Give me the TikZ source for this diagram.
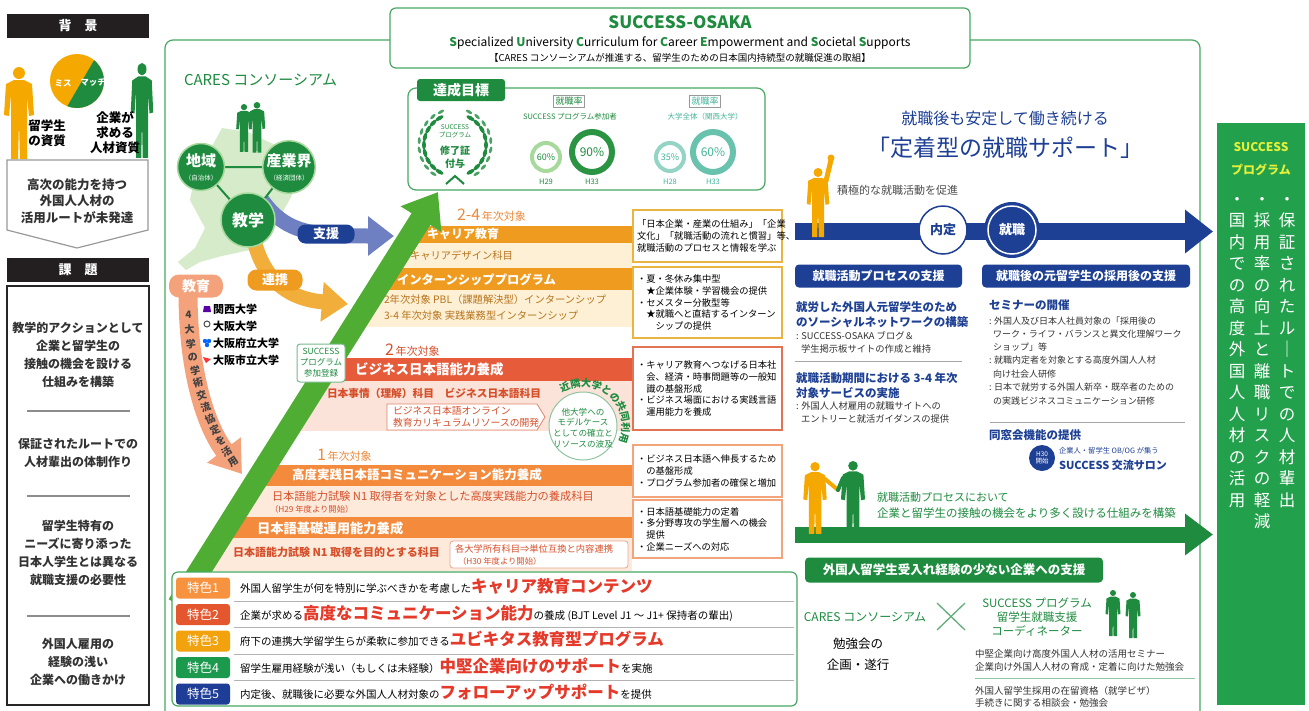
\documentclass[tikz,border=0pt]{standalone}
\usepackage{fontspec}
\setmainfont{Noto Sans CJK JP}
\usetikzlibrary{arrows.meta,decorations.text,shapes.geometric}
\definecolor{hdrblack}{HTML}{231F20}
\definecolor{frameG}{HTML}{48A863}
\definecolor{gD}{HTML}{1E8B3F}
\definecolor{gArrow}{HTML}{4EAD32}
\definecolor{mapG}{HTML}{D6EBC9}
\definecolor{orP}{HTML}{F5A800}
\definecolor{orA}{HTML}{EF9B20}
\definecolor{creamA}{HTML}{FDF0D5}
\definecolor{redB}{HTML}{E65C3B}
\definecolor{pinkB}{HTML}{FBE3D9}
\definecolor{orC}{HTML}{F38A3C}
\definecolor{creamC}{HTML}{FDEADB}
\definecolor{txtR}{HTML}{D64F2A}
\definecolor{txtO}{HTML}{EC8A3C}
\definecolor{txtB}{HTML}{B8741C}
\definecolor{blueD}{HTML}{1D3F94}
\definecolor{blueL}{HTML}{6F80C2}
\definecolor{salmonB}{HTML}{F4A27B}
\definecolor{orL}{HTML}{F2AE3A}
\definecolor{ringL}{HTML}{A7D89C}
\definecolor{ringD}{HTML}{2A9442}
\definecolor{tealL}{HTML}{93D4C4}
\definecolor{tealD}{HTML}{44B39A}
\definecolor{panelG}{HTML}{23A04C}
\definecolor{bigR}{HTML}{E5392A}
\definecolor{boxY}{HTML}{E9B440}
\definecolor{boxR}{HTML}{E27355}
\definecolor{boxS}{HTML}{F2A57A}
\definecolor{tkA}{HTML}{F7923E}
\definecolor{tkB}{HTML}{E4572E}
\definecolor{tkC}{HTML}{F2A20C}
\definecolor{tkD}{HTML}{1B9A4D}
\definecolor{tkE}{HTML}{1E3D96}
\definecolor{yel}{HTML}{E4F03A}
\newcommand\fsz[2]{\fontsize{#1}{#2}\selectfont}
\newcommand\grL[1]{\textcolor{gD}{\bfseries #1}}
\newcommand\redbig[1]{{\fsz{16.5}{16.5}\bfseries\color{bigR}#1}}
\tikzset{
  person/.pic={
    \fill (0,6) circle[radius=6];
    \fill (-5,13) -- (5,13) -- (13,17) -- (15,48) -- (10,49) -- (8,28) -- (8,92) -- (1,92)
      -- (0,55) -- (-1,92) -- (-8,92) -- (-8,28) -- (-10,49) -- (-15,48) -- (-13,17) -- cycle;
  },
  hdr/.style={fill=hdrblack, text=white, minimum width=142pt, minimum height=24pt, font=\fsz{13}{13}\bfseries},
  issue/.style={font=\fsz{12}{18}\bfseries, align=center, text=black!80},
  bigcirc/.style={circle, fill=gD, draw=ringL, line width=1.5pt, align=center, text=white},
  barT/.style={anchor=west, text=white, font=\fsz{13}{13}\bfseries},
  subT/.style={anchor=west, font=\fsz{10.3}{10.3}, text=txtB},
  redT/.style={anchor=west, font=\fsz{11}{11}\bfseries, text=txtR},
  note/.style={fill=white, line width=1.3pt, inner sep=4pt, text width=141pt, align=left, font=\fsz{9.3}{11.7}},
  tk/.style={rounded corners=3pt, minimum width=54pt, minimum height=21pt, text=white, font=\fsz{12.5}{12.5}},
  tkT/.style={anchor=base west, font=\fsz{10.5}{10.5}},
  bhead/.style={fill=blueD, rounded corners=4pt, text=white, minimum height=23pt, font=\fsz{12}{12}\bfseries},
  bT/.style={anchor=west, font=\fsz{11.5}{11.5}\bfseries, text=blueD},
  sT/.style={anchor=west, font=\fsz{9.3}{9.3}, text=black!80},
  vcol/.style={anchor=north, align=center, text=white, font=\fsz{16.5}{21.5}},
}
\begin{document}
\begin{tikzpicture}[x=1pt,y=-1pt, every node/.style={inner sep=0pt, outer sep=0pt}]
\useasboundingbox[fill=white] (0,0) rectangle (1309,710);

%================ left column: background ================
\node[hdr] (bgHead) at (78,26) {背　景};
\begin{scope}
  \clip (77,81) circle[radius=27];
  \fill[orP] (45,50) rectangle (110,112);
  \fill[gD] (100,50) -- (110,50) -- (110,112) -- (64,112) -- cycle;
\end{scope}
\node[text=white, font=\fsz{8.5}{8.5}\bfseries] (mis) at (63,83) {ミス};
\node[text=white, font=\fsz{8.5}{8.5}\bfseries] (match) at (93,82) {マッチ};
\pic[color=orP] at (19,67) {person};
\pic[color=gD, xscale=0.75, yscale=1.03] at (142,63) {person};
\node[font=\fsz{12.5}{15.5}\bfseries, align=center] (stuQ) at (47,133) {留学生\\の資質};
\node[font=\fsz{12.5}{15}\bfseries, align=center] (corpQ) at (115,133) {企業が\\求める\\人材資質};
\draw[black!40, fill=white, line width=1.2pt] (7,160) -- (148,160) -- (148,230) -- (77,248) -- (7,230) -- cycle;
\node[font=\fsz{12.5}{16.5}\bfseries, align=center, text=black!80] (bgText) at (77,201) {高次の能力を持つ\\外国人人材の\\活用ルートが未発達};

%================ left column: issues ================
\node[hdr] (isHead) at (78,270) {課　題};
\draw[black!85, line width=1.3pt] (7,286) rectangle (149,705);
\node[issue] (is1) at (78,355) {教学的アクションとして\\企業と留学生の\\接触の機会を設ける\\仕組みを構築};
\node[issue] (is2) at (78,452.5) {保証されたルートでの\\人材輩出の体制作り};
\node[issue] (is3) at (78,552.5) {留学生特有の\\ニーズに寄り添った\\日本人学生とは異なる\\就職支援の必要性};
\node[issue] (is4) at (78,662) {外国人雇用の\\経験の浅い\\企業への働きかけ};
\foreach \y in {411,496,616} \draw[black!45, line width=1.2pt] (27,\y) -- (130,\y);

%================ main frame and title ================
\draw[frameG, line width=1.2pt, rounded corners=8pt] (165,712) -- (165,40) -- (1200,40) -- (1200,712);
\draw[frameG, fill=white, line width=1.2pt, rounded corners=6pt] (390,8) rectangle (970,68);
\node[font=\fsz{17}{17}\bfseries, text=gD] (ttl) at (680,22) {SUCCESS-OSAKA};
\node[font=\fsz{12}{12}] (sub) at (680,43) {\grL{S}pecialized \grL{U}niversity \grL{C}urriculum for \grL{C}areer \grL{E}mpowerment and \grL{S}ocietal \grL{S}upports};
\node[font=\fsz{9.5}{9.5}] (brk) at (680,58) {【CARES コンソーシアムが推進する、留学生のための日本国内持続型の就職促進の取組】};

%================ CARES consortium ================
\node[font=\fsz{15}{15}, text=gD, anchor=west] (cares) at (184,80) {CARES コンソーシアム};
\fill[mapG] (222,128) -- (248,132) -- (275,145) -- (300,150) -- (292,195) -- (272,232) -- (250,250)
  -- (222,256) -- (200,262) -- (186,270) -- (178,262) -- (195,248) -- (205,228) -- (190,200) -- (195,175) -- (210,150) -- cycle;
\pic[color=gD, scale=0.52] at (244,104) {person};
\pic[color=gD, scale=0.55] at (257,102) {person};

% support / cooperation / education bands
\draw[blueL, line width=15pt, -{Triangle[width=38pt,length=26pt]}] (262,200) .. controls (285,232) and (310,236) .. (394,236);
\draw[orL, line width=15pt, -{Triangle[width=38pt,length=26pt]}] (255,244) .. controls (268,290) and (300,300) .. (348,304);
\draw[salmonB, line width=19pt, -{Triangle[width=40pt,length=30pt]}] (188,292) .. controls (188,370) and (205,425) .. (242,474);
\path (188,292) .. controls (188,370) and (205,425) .. (242,474)
  foreach \ch/\p/\k in {4/0.10/1,大/0.168/2,学/0.236/3,の/0.304/4,学/0.372/5,術/0.44/6,交/0.508/7,流/0.576/8,協/0.644/9,定/0.712/10,を/0.78/11,活/0.848/12,用/0.916/13}
  { node[pos=\p, sloped, allow upside down, rotate=90, font=\fsz{10}{10}\bfseries, text=black!75] (ed\k) {\ch} };

\coordinate (cA) at (201,167);
\coordinate (cB) at (289,167);
\coordinate (cC) at (248,220);
\draw[gD, line width=2pt] (cA) -- (cB) -- (cC) -- cycle;
\node[bigcirc, minimum size=47pt] (chiiki) at (cA) {{\fsz{15}{15}\bfseries 地域}\\[2pt]{\fsz{6.5}{6.5}（自治体）}};
\node[bigcirc, minimum size=47pt] (sangyo) at (cB) {{\fsz{15}{15}\bfseries 産業界}\\[2pt]{\fsz{6.5}{6.5}（経済団体）}};
\node[bigcirc, minimum size=54pt] (kyogaku) at (cC) {\fsz{16}{16}\bfseries 教学};

\node[fill=blueD, rounded corners=8pt, minimum width=57pt, minimum height=19pt, text=white, font=\fsz{13}{13}\bfseries] (shien) at (326,234) {支援};
\node[fill=orA, rounded corners=9pt, minimum width=55pt, minimum height=21pt, text=white, font=\fsz{13}{13}\bfseries] (renkei) at (275,280) {連携};
\node[fill=salmonB, rounded corners=10pt, minimum width=54pt, minimum height=23pt, text=white, font=\fsz{14}{14}\bfseries] (kyoiku) at (196,286) {教育};

% universities
\fill[violet!70!blue] (204,306) -- (210,306) -- (211,312) -- (203,312) -- cycle;
\draw[black!70, line width=1pt] (207,324) circle[radius=3];
\fill[blue!60!cyan] (205,341) circle[radius=2.2] (209,341) circle[radius=2.2] (207,345) circle[radius=2.2];
\fill[red!80] (203,357) -- (211,359) -- (206,363) -- cycle;
\node[anchor=west, font=\fsz{11}{11}\bfseries] (u1) at (213,309) {関西大学};
\node[anchor=west, font=\fsz{11}{11}\bfseries] (u2) at (213,326) {大阪大学};
\node[anchor=west, font=\fsz{11}{11}\bfseries] (u3) at (213,343) {大阪府立大学};
\node[anchor=west, font=\fsz{11}{11}\bfseries] (u4) at (213,360) {大阪市立大学};

%================ targets ================
\draw[frameG, fill=white, line width=1.2pt, rounded corners=8pt] (408,88) rectangle (765,190);
\node[fill=gD, rounded corners=3pt, text=white, minimum width=88pt, minimum height=22pt, font=\fsz{14}{14}\bfseries] (goal) at (461,90) {達成目標};
\foreach \a in {120,135,...,240} {
  \path (455,145) ++(\a:31) node[ellipse, fill=gD, minimum width=9pt, minimum height=4pt, rotate=90-\a] {};
  \path (455,145) ++(\a+7:36) node[ellipse, fill=gD!80, minimum width=7pt, minimum height=3pt, rotate=90-\a] {};
}
\foreach \a in {-60,-45,...,60} {
  \path (455,145) ++(\a:31) node[ellipse, fill=gD, minimum width=9pt, minimum height=4pt, rotate=90-\a] {};
  \path (455,145) ++(\a-7:36) node[ellipse, fill=gD!80, minimum width=7pt, minimum height=3pt, rotate=90-\a] {};
}
\draw[gD, line width=2pt] (446,184) -- (455,176) -- (464,184);
\node[font=\fsz{6.5}{8}, text=gD, align=center] (wrA) at (455,131) {SUCCESS\\プログラム};
\node[font=\fsz{10}{12.5}\bfseries, text=gD, align=center] (wrB) at (455,157) {修了証\\付与};

\node[draw=black!40, inner sep=2pt, font=\fsz{9}{9}, text=gD] (rate1) at (569,101) {就職率};
\node[draw=black!40, inner sep=2pt, font=\fsz{9}{9}, text=tealD] (rate2) at (705,101) {就職率};
\node[font=\fsz{7.5}{7.5}, text=gD] (rt1) at (570,117) {SUCCESS プログラム参加者};
\node[font=\fsz{7.5}{7.5}, text=tealD] (rt2) at (705,117) {大学全体（関西大学）};
\draw[ringL, line width=4pt] (546,157) circle[radius=14];
\draw[ringD, line width=6pt] (592,152) circle[radius=20];
\draw[tealL, line width=4pt] (670,157) circle[radius=14];
\draw[tealD!80, line width=6pt] (713,152) circle[radius=20];
\node[font=\fsz{9}{9}, text=gD] (p1) at (546,157) {60\%};
\node[font=\fsz{12}{12}, text=gD] (p2) at (592,152) {90\%};
\node[font=\fsz{9}{9}, text=tealD] (p3) at (670,157) {35\%};
\node[font=\fsz{12}{12}, text=tealD] (p4) at (713,152) {60\%};
\node[font=\fsz{7.5}{7.5}, text=gD] (h1) at (546,182) {H29};
\node[font=\fsz{7.5}{7.5}, text=gD] (h2) at (592,182) {H33};
\node[font=\fsz{7.5}{7.5}, text=tealD] (h3) at (670,182) {H28};
\node[font=\fsz{7.5}{7.5}, text=tealD] (h4) at (713,182) {H33};

%================ programme rows ================
\begin{scope}
  \clip (464,150) -- (168,620) -- (640,620) -- (640,150) -- cycle;
  \fill[orA] (150,226) rectangle (632,243);
  \fill[creamA] (150,243) rectangle (632,268);
  \fill[orA] (150,268) rectangle (632,290);
  \fill[creamA] (150,290) rectangle (632,327);
  \fill[redB] (150,358) rectangle (632,381);
  \fill[pinkB] (150,381) rectangle (632,431);
  \fill[orC] (150,465) rectangle (632,486);
  \fill[creamC] (150,486) rectangle (632,517);
  \fill[orC] (150,517) rectangle (632,538);
  \fill[creamC] (150,538) rectangle (632,571);
\end{scope}
\node[anchor=base west, text=txtO] (yr24) at (457,220) {{\fsz{16}{16}2-4}\,{\fsz{11}{11}年次対象}};
\node[barT, font=\fsz{12}{12}\bfseries] (rCar) at (427,234) {キャリア教育};
\node[subT] (rDes) at (410,256) {キャリアデザイン科目};
\node[barT, font=\fsz{12.3}{12.3}\bfseries] (rInt) at (397,280) {インターンシッププログラム};
\node[subT] (rPbl) at (384,300) {2年次対象 PBL（課題解決型）インターンシップ};
\node[subT] (rJis) at (384,316) {3-4 年次対象 実践業務型インターンシップ};
\node[anchor=base west, text=txtR] (yr2) at (385,355) {{\fsz{16}{16}2}\,{\fsz{11}{11}年次対象}};
\node[barT, font=\fsz{13.5}{13.5}\bfseries] (rBiz) at (355,369) {ビジネス日本語能力養成};
\node[redT, font=\fsz{10.7}{10.7}\bfseries] (rJij) at (327,393) {日本事情（理解）科目　ビジネス日本語科目};
\draw[txtR!70, fill=white, line width=0.8pt] (387,404) -- (537,404) -- (545,417) -- (537,430) -- (387,430) -- cycle;
\node[anchor=west, font=\fsz{9.8}{12.5}, text=txtR, align=left] (rOnl) at (393,417) {ビジネス日本語オンライン\\教育カリキュラムリソースの開発};
\node[circle, draw=gD!50, fill=white, line width=1pt, minimum size=68pt] (kinrin) at (583,426) {};
\node[font=\fsz{8.6}{10.8}, text=gD, align=center] (kinT) at (583,428) {他大学への\\モデルケース\\としての確立と\\リソースの波及};
\path[decorate, decoration={text along path, text align=center, text={|\fsz{10}{10}\bfseries\color{gD}|近隣大学との共同利用}}]
  (583,426) ++(-132:39) arc[start angle=-132, end angle=34, radius=39];
\node[anchor=base west, text=txtO] (yr1) at (317,460) {{\fsz{16}{16}1}\,{\fsz{11}{11}年次対象}};
\node[barT, font=\fsz{12.5}{12.5}\bfseries] (rKod) at (292,475) {高度実践日本語コミュニケーション能力養成};
\node[redT, font=\fsz{11.2}{11.2}] (rN1a) at (272,496) {日本語能力試験 N1 取得者を対象とした高度実践能力の養成科目};
\node[anchor=west, font=\fsz{8.3}{8.3}, text=txtR] (rH29) at (270,509) {（H29 年度より開始）};
\node[barT, font=\fsz{13.3}{13.3}\bfseries] (rKis) at (257,528) {日本語基礎運用能力養成};
\node[redT] (rN1b) at (233,552) {日本語能力試験 N1 取得を目的とする科目};
\draw[txtR!50, fill=white, line width=0.8pt, rounded corners=3pt] (450,541) rectangle (628,568);
\node[anchor=west, font=\fsz{9.3}{9.3}, text=txtR] (rTan) at (455,549) {各大学所有科目⇒単位互換と内容連携};
\node[anchor=west, font=\fsz{8.3}{8.3}, text=txtR] (rH30) at (458,561) {（H30 年度より開始）};

% the growth arrow
\coordinate (gaS) at (178,605);
\coordinate (gaE) at (438,192);
\draw[gArrow, line width=22pt, -{Triangle[width=46pt,length=32pt]}] (gaS) -- (gaE);
\node[draw=gD!60, fill=white, rounded corners=3pt, line width=1pt, minimum width=48pt, minimum height=38pt, align=center, font=\fsz{8.5}{11}, text=gD] (entry) at (321,363) {SUCCESS\\プログラム\\参加登録};

% notes beside the rows
\node[note, draw=boxY, minimum height=52pt] (nb1) at (707.5,236) {「日本企業・産業の仕組み」「企業\\文化」「就職活動の流れと慣習」等、\\就職活動のプロセスと情報を学ぶ};
\node[note, draw=boxY, minimum height=71pt] (nb2) at (707.5,302.5) {・夏・冬休み集中型\\　★企業体験・学習機会の提供\\・セメスター分散型等\\　★就職へと直結するインターン\\　　シップの提供};
\node[note, draw=boxR, minimum height=83pt] (nb3) at (707.5,388.5) {・キャリア教育へつなげる日本社\\　会、経済・時事問題等の一般知\\　識の基盤形成\\・ビジネス場面における実践言語\\　運用能力を養成};
\node[note, draw=boxS, minimum height=52pt] (nb4) at (707.5,471) {・ビジネス日本語へ伸長するため\\　の基盤形成\\・プログラム参加者の確保と増加};
\node[note, draw=boxS, minimum height=58pt] (nb5) at (707.5,529) {・日本語基礎能力の定着\\・多分野専攻の学生層への機会\\　提供\\・企業ニーズへの対応};

%================ features ================
\draw[frameG, fill=white, line width=1.2pt, rounded corners=6pt] (172,572) rectangle (797,706);
\foreach \y in {601,627.5,654,680.5} \draw[black!30, line width=0.8pt] (234,\y) -- (794,\y);
\node[tk, fill=tkA] (tk1) at (203,588) {特色1};
\node[tk, fill=tkB] (tk2) at (203,614.5) {特色2};
\node[tk, fill=tkC] (tk3) at (203,641) {特色3};
\node[tk, fill=tkD] (tk4) at (203,667.5) {特色4};
\node[tk, fill=tkE] (tk5) at (203,694) {特色5};
\node[tkT] (tx1) at (240,592.5) {外国人留学生が何を特別に学ぶべきかを考慮した\redbig{キャリア教育コンテンツ}};
\node[tkT] (tx2) at (240,619) {企業が求める\redbig{高度なコミュニケーション能力}の養成 (BJT Level J1 ～ J1+ 保持者の輩出)};
\node[tkT] (tx3) at (240,645.5) {府下の連携大学留学生らが柔軟に参加できる\redbig{ユビキタス教育型プログラム}};
\node[tkT] (tx4) at (240,672) {留学生雇用経験が浅い（もしくは未経験）\redbig{中堅企業向けのサポート}を実施};
\node[tkT] (tx5) at (240,698.5) {内定後、就職後に必要な外国人人材対象の\redbig{フォローアップサポート}を提供};

%================ settled employment support ================
\node[font=\fsz{16}{16}, text=blueD] (setA) at (1005,118) {就職後も安定して働き続ける};
\node[font=\fsz{23}{23}, text=blueD] (setB) at (1005,148) {「定着型の就職サポート」};
\coordinate (baS) at (795,231.5);
\coordinate (baE) at (1213,231.5);
\draw[blueD, line width=17pt, -{Triangle[width=42pt,length=28pt]}] (baS) -- (baE);
\pic[color=orP, scale=0.75] at (818,168) {person};
\draw[orP, line width=5pt, line cap=round] (826,181) -- (831,160);
\fill[orP] (831,158) circle[radius=3.5];
\node[anchor=west, font=\fsz{11}{11}, text=black!70] (promo) at (837,190) {積極的な就職活動を促進};
\node[circle, draw=blueD, fill=white, line width=1.5pt, minimum size=48pt, font=\fsz{13}{13}\bfseries, text=blueD] (naitei) at (943,230) {内定};
\node[circle, fill=blueD, minimum size=56pt] (shushoku) at (1012,230) {};
\draw[white, line width=1.5pt] (shushoku.center) circle[radius=24];
\node[font=\fsz{13}{13}\bfseries, text=white] (shuT) at (1012,230) {就職};
\node[bhead, minimum width=167pt] (bh1) at (878.5,276) {就職活動プロセスの支援};
\node[bhead, minimum width=208pt] (bh2) at (1086,276) {就職後の元留学生の採用後の支援};

\node[bT] (l1) at (796,307) {就労した外国人元留学生のため};
\node[bT] (l2) at (796,322) {のソーシャルネットワークの構築};
\node[sT] (l3) at (796,336) {: SUCCESS-OSAKA ブログ＆};
\node[sT] (l4) at (801,349) {学生掲示板サイトの作成と維持};
\draw[black!35, line width=1pt] (795,361) -- (962,361);
\node[bT] (l5) at (796,378) {就職活動期間における 3-4 年次};
\node[bT] (l6) at (796,393) {対象サービスの実施};
\node[sT] (l7) at (796,406) {: 外国人人材雇用の就職サイトへの};
\node[sT] (l8) at (801,419) {エントリーと就活ガイダンスの提供};

\node[bT] (r1) at (989,305) {セミナーの開催};
\node[sT, font=\fsz{9}{9}] (r2) at (989,321) {: 外国人及び日本人社員対象の「採用後の};
\node[sT, font=\fsz{9}{9}] (r3) at (993,334) {ワーク・ライフ・バランスと異文化理解ワーク};
\node[sT, font=\fsz{9}{9}] (r4) at (993,347) {ショップ」等};
\node[sT, font=\fsz{9}{9}] (r5) at (989,360) {: 就職内定者を対象とする高度外国人人材};
\node[sT, font=\fsz{9}{9}] (r6) at (993,374) {向け社会人研修};
\node[sT, font=\fsz{9}{9}] (r7) at (989,387) {: 日本で就労する外国人新卒・既卒者のための};
\node[sT, font=\fsz{9}{9}] (r8) at (993,401) {の実践ビジネスコミュニケーション研修};
\draw[black!35, line width=1pt] (990,422) -- (1185,422);
\node[bT] (r9) at (989,435) {同窓会機能の提供};
\node[circle, fill=blueD, minimum size=26pt, align=center, text=white, font=\fsz{6.5}{7.5}] (h30) at (1042,458) {H30\\開始};
\node[anchor=west, font=\fsz{7.3}{7.3}, text=blueD] (salonA) at (1059,451) {企業人・留学生 OB/OG が集う};
\node[anchor=west, font=\fsz{11}{11}\bfseries, text=blueD] (salonB) at (1059,465) {SUCCESS 交流サロン};

% contact between companies and students
\coordinate (gbS) at (795,534.5);
\coordinate (gbE) at (1213,534.5);
\draw[gD, line width=16pt, -{Triangle[width=40pt,length=28pt]}] (gbS) -- (gbE);
\pic[color=orP, scale=0.78] at (815,462) {person};
\pic[color=gD, scale=0.8] at (853,461) {person};
\draw[orP, line width=4pt, line cap=round] (825,479) -- (838,490);
\draw[gD, line width=4pt, line cap=round] (843,478) -- (838,490);
\node[anchor=west, font=\fsz{11}{11}, text=gD] (ctA) at (877,497) {就職活動プロセスにおいて};
\node[anchor=west, font=\fsz{11.5}{11.5}, text=gD] (ctB) at (877,513) {企業と留学生の接触の機会をより多く設ける仕組みを構築};
\node[fill=gD, rounded corners=4pt, text=white, minimum width=298pt, minimum height=25pt, font=\fsz{12.5}{12.5}\bfseries] (gbox) at (954,570) {外国人留学生受入れ経験の少ない企業への支援};
\node[font=\fsz{12}{12}, text=gD] (care2) at (865,617) {CARES コンソーシアム};
\draw[gD!70, line width=1.3pt] (937,603) -- (965,630) (965,603) -- (937,630);
\node[font=\fsz{11.5}{14}, text=gD, align=center] (coord) at (1037,617) {SUCCESS プログラム\\留学生就職支援\\コーディネーター};
\pic[color=gD, scale=0.5] at (1113,590) {person};
\pic[color=gD, scale=0.5] at (1133,592) {person};
\node[font=\fsz{12.5}{21}, align=center] (study) at (858,654) {勉強会の\\企画・遂行};
\node[sT, font=\fsz{9.5}{9.5}] (s1) at (975,654) {中堅企業向け高度外国人人材の活用セミナー};
\node[sT, font=\fsz{9.5}{9.5}] (s2) at (975,667) {企業向け外国人人材の育成・定着に向けた勉強会};
\draw[gD!50, line width=1pt] (975,678) -- (1195,678);
\node[sT, font=\fsz{9.5}{9.5}] (s3) at (975,691) {外国人留学生採用の在留資格（就学ビザ）};
\node[sT, font=\fsz{9.5}{9.5}] (s4) at (975,703) {手続きに関する相談会・勉強会};

%================ programme outcomes panel ================
\fill[panelG] (1217,123) rectangle (1305,705);
\node[font=\fsz{12}{12}\bfseries, text=yel] (pnA) at (1261,147) {SUCCESS};
\node[font=\fsz{12}{12}\bfseries, text=yel] (pnB) at (1261,170) {プログラム};
\node[vcol] (v1) at (1287,197) {・\\保\\証\\さ\\れ\\た\\ル\\｜\\ト\\で\\の\\人\\材\\輩\\出};
\node[vcol] (v2) at (1262,197) {・\\採\\用\\率\\の\\向\\上\\と\\離\\職\\リ\\ス\\ク\\の\\軽\\減};
\node[vcol] (v3) at (1237,197) {・\\国\\内\\で\\の\\高\\度\\外\\国\\人\\人\\材\\の\\活\\用};
\end{tikzpicture}
\end{document}
